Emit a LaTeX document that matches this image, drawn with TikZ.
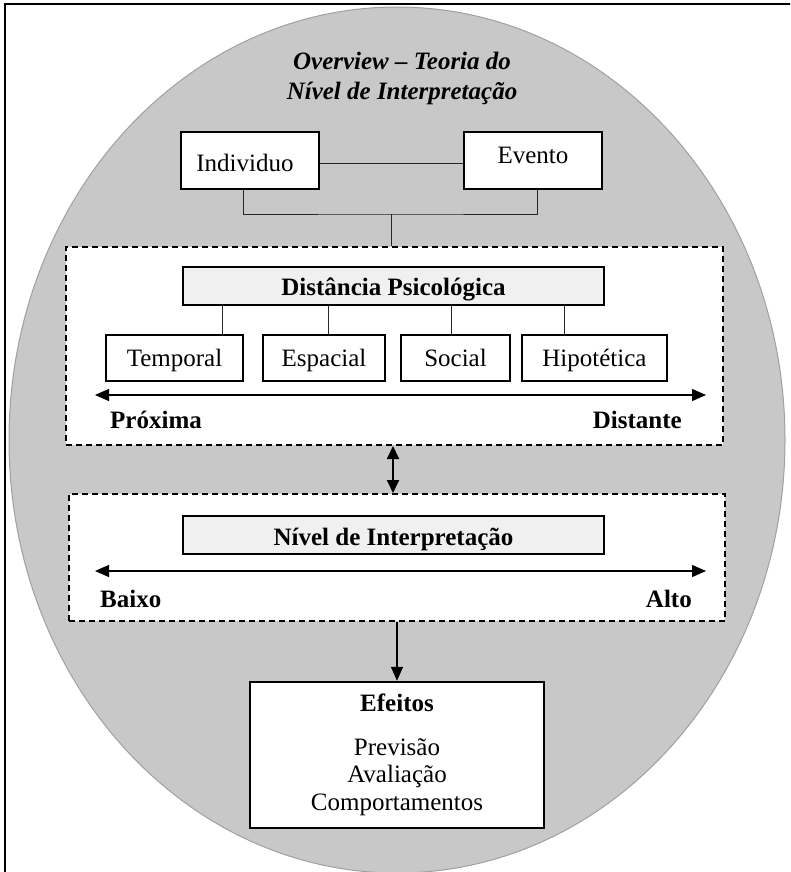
\documentclass[tikz,border=0pt]{standalone}
\usepackage{fontspec}
\setmainfont{Liberation Serif}
\usetikzlibrary{arrows.meta}
\definecolor{shade}{RGB}{200,200,200}
\definecolor{shadeedge}{RGB}{160,160,160}
\definecolor{headfill}{RGB}{240,240,240}
\begin{document}
\begin{tikzpicture}[x=1pt,y=-1pt,
  font=\fontsize{25}{30}\selectfont,
  box/.style={draw, line width=2.5pt, fill=white, inner sep=0pt},
  headbox/.style={box, fill=headfill},
  zone/.style={draw, dash pattern=on 6pt off 4pt, line width=2pt, fill=white, inner sep=0pt},
  txt/.style={inner sep=0pt, anchor=base},
  link/.style={line width=1pt, draw=black!85},
  axis/.style={line width=1.2pt, {Triangle[length=14pt,width=12pt]}-{Triangle[length=14pt,width=12pt]}},
  flow/.style={line width=1.5pt, -{Triangle[length=14pt,width=12pt]}},
  both/.style={line width=1.8pt, {Triangle[length=13pt,width=12pt]}-{Triangle[length=13pt,width=12pt]}}
]
\useasboundingbox (0,0) rectangle (790,872);
\clip (0,0) rectangle (790,872);

% outer frame and background oval
\draw[line width=2pt] (5,4) rectangle (800,882);
\draw[fill=shade, draw=shadeedge, line width=1pt] (397,440) ellipse [x radius=388pt, y radius=433pt];

% title
\node[txt, font=\fontsize{25}{30}\selectfont\bfseries\itshape] (t1) at (402,70) {Overview -- Teoria do};
\node[txt, font=\fontsize{25}{30}\selectfont\bfseries\itshape] (t2) at (402,100) {Nível de Interpretação};

% individual and event
\node[box, minimum width=138pt, minimum height=57pt] (ind) at (250,160.5) {};
\node[box, minimum width=138pt, minimum height=57pt] (evt) at (533,160.5) {};
\node[txt] (indt) at (245,171) {Individuo};
\node[txt] (evtt) at (533,163) {Evento};
\draw[link] (ind.east |- 0,163) -- (evt.west |- 0,163);
\coordinate (join) at (391,214);
\draw[link] (ind.south -| 243,0) |- (join) -| (evt.south -| 537,0);

% psychological distance zone
\node[zone, minimum width=657pt, minimum height=198pt] (dp) at (394.5,346) {};
\draw[link] (join) -- (dp.north -| join);
\node[headbox, minimum width=421pt, minimum height=38pt] (dph) at (393.5,286) {};
\node[txt, font=\fontsize{25}{30}\selectfont\bfseries] (dpt) at (393.5,295) {Distância Psicológica};

\node[box, minimum width=137pt, minimum height=46pt] (tmp) at (174.5,358) {};
\node[box, minimum width=122pt, minimum height=46pt] (esp) at (324,358) {};
\node[box, minimum width=109pt, minimum height=46pt] (soc) at (455.5,358) {};
\node[box, minimum width=145pt, minimum height=46pt] (hip) at (594.5,358) {};
\node[txt] (tmpt) at (174.5,366) {Temporal};
\node[txt] (espt) at (324,366) {Espacial};
\node[txt] (soct) at (455.5,366) {Social};
\node[txt] (hipt) at (594.5,366) {Hipotética};
\draw[link] (tmp.north -| 222,0) -- (dph.south -| 222,0);
\draw[link] (esp.north -| 328,0) -- (dph.south -| 328,0);
\draw[link] (soc.north -| 451,0) -- (dph.south -| 451,0);
\draw[link] (hip.north -| 564,0) -- (dph.south -| 564,0);

\coordinate (dl) at (95,395);
\coordinate (dr) at (706,395);
\draw[axis] (dl) -- (dr);
\node[txt, anchor=base west, font=\fontsize{25}{30}\selectfont\bfseries] (prox) at (110,428) {Próxima};
\node[txt, anchor=base east, font=\fontsize{25}{30}\selectfont\bfseries] (dist) at (682,428) {Distante};

% construal level zone
\node[zone, minimum width=656pt, minimum height=127pt] (ni) at (397,557.5) {};
\coordinate (mid) at (393,470);
\draw[both] (dp.south -| mid) -- (ni.north -| mid);
\node[headbox, minimum width=421pt, minimum height=38pt] (nih) at (393.5,535) {};
\node[txt, font=\fontsize{25}{30}\selectfont\bfseries] (nit) at (393.5,545) {Nível de Interpretação};
\coordinate (nl) at (95,571);
\coordinate (nr) at (706,571);
\draw[axis] (nl) -- (nr);
\node[txt, anchor=base west, font=\fontsize{25}{30}\selectfont\bfseries] (low) at (100,607) {Baixo};
\node[txt, anchor=base east, font=\fontsize{25}{30}\selectfont\bfseries] (high) at (692,607) {Alto};

% effects
\node[box, minimum width=294pt, minimum height=146pt] (eff) at (397,755) {};
\draw[flow] (ni.south) -- (eff.north);
\node[txt, font=\fontsize{25}{30}\selectfont\bfseries] (efft) at (397,711) {Efeitos};
\node[txt] (e1) at (397,755) {Previsão};
\node[txt] (e2) at (397,782) {Avaliação};
\node[txt] (e3) at (397,810) {Comportamentos};
\end{tikzpicture}
\end{document}
